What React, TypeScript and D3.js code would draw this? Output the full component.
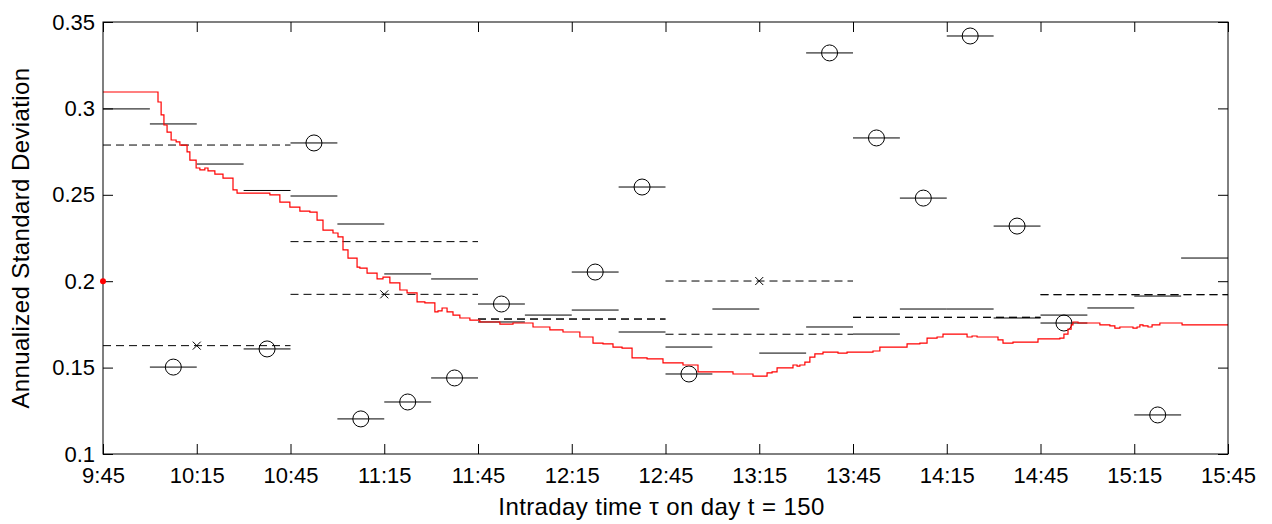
import React, { useEffect, useRef } from 'react';
import * as d3 from 'd3';

// x tick labels (every 30 min)
const tickLabels = ["9:45", "10:15", "10:45", "11:15", "11:45", "12:15", "12:45", "13:15", "13:45", "14:15", "14:45", "15:15", "15:45"];
const yTicks = [0.1, 0.15, 0.2, 0.25, 0.3, 0.35];

// 15-minute buckets
const bucketStarts = ["9:45", "10:00", "10:15", "10:30", "10:45", "11:00", "11:15", "11:30", "11:45", "12:00", "12:15", "12:30",
  "12:45", "13:00", "13:15", "13:30", "13:45", "14:00", "14:15", "14:30", "14:45", "15:00", "15:15", "15:30"];
const bucketEstimate = [0.2997, 0.2910, 0.2678, 0.2525, 0.2493, 0.2331, 0.2042, 0.2013, 0.1764, 0.1804, 0.1833, 0.1706,
  0.1619, 0.1839, 0.1584, 0.1735, 0.1694, 0.1839, 0.1839, 0.1787, 0.1804, 0.1845, 0.1914, 0.2134];
const bucketRealized = [null, 0.1503, null, 0.1608, 0.2800, 0.1203, 0.1301, 0.1440, 0.1868, null, 0.2053, 0.2545,
  0.1463, null, null, 0.3321, 0.2829, 0.2481, 0.3419, 0.2319, 0.1758, null, 0.1226, null];

// hourly blocks (dashed)
const hourStarts = ["9:45", "10:45", "11:45", "12:45", "13:45", "14:45"];
const hourUpper = [0.2788, 0.2229, 0.1781, 0.2001, 0.1791, 0.1922];
const hourLower = [0.1627, 0.1924, 0.1781, 0.1693, 0.1791, 0.1922];
const hourCross = [0.1627, 0.1924, null, 0.2001, null, null];

// red filtered path: minutes after 9:45, value
const filterMinutes = [0, 16.6, 17.6, 18.6, 19.5, 20.5, 21.8, 23.4, 24.6, 26.9, 27.8, 29.8, 31.0, 32.6, 33.6, 35.8, 38.4, 41.6, 42.9,
  53.4, 56.6, 59.8, 63.0, 66.2, 68.5, 70.4, 73.6, 75.2, 76.8, 78.4, 81.3, 82.2, 84.5, 87.7, 89.6, 91.8, 95.0, 97.3, 100.5, 103.0,
  106.2, 107.2, 108.5, 110.1, 112.0, 114.2, 117.4, 120.6, 127.0, 131.2, 137.6, 143.0, 147.2, 152.6, 156.8, 160.0, 163.2, 166.1,
  169.3, 174.1, 179.2, 185.6, 190.4, 201.6, 208.0, 212.5, 214.1, 215.7, 220.8, 222.1, 223.0, 224.6, 226.2, 227.8, 230.4, 235.2,
  238.1, 246.4, 248.6, 257.3, 261.4, 263.7, 266.9, 268.8, 276.5, 278.1, 279.7, 286.4, 288.0, 291.2, 299.2, 306.2, 307.5, 308.8,
  309.8, 310.4, 312.0, 319.0, 322.2, 323.8, 325.4, 329.6, 330.9, 331.8, 332.8, 334.4, 335.7, 338.2, 345.3, 360];
const filterValues = [0.3095, 0.3095, 0.3037, 0.2962, 0.2904, 0.2863, 0.2817, 0.2806, 0.2788, 0.2748, 0.2701, 0.2655, 0.2644, 0.2655, 0.2638, 0.2620, 0.2597, 0.2528, 0.2510,
  0.2499, 0.2458, 0.2429, 0.2406, 0.2400, 0.2354, 0.2296, 0.2279, 0.2256, 0.2181, 0.2134, 0.2082, 0.2076, 0.2047, 0.2013, 0.2024, 0.1990, 0.1949, 0.1932, 0.1880, 0.1874,
  0.1822, 0.1828, 0.1845, 0.1822, 0.1804, 0.1787, 0.1775, 0.1764, 0.1752, 0.1758, 0.1735, 0.1718, 0.1706, 0.1677, 0.1642, 0.1637, 0.1619, 0.1613,
  0.1556, 0.1550, 0.1527, 0.1515, 0.1475, 0.1463, 0.1451, 0.1469, 0.1475, 0.1498, 0.1515, 0.1509, 0.1515, 0.1532, 0.1561, 0.1579, 0.1590, 0.1584,
  0.1590, 0.1596, 0.1619, 0.1637, 0.1642, 0.1671, 0.1677, 0.1694, 0.1677, 0.1683, 0.1677, 0.1660, 0.1642, 0.1648, 0.1666, 0.1671, 0.1694, 0.1723,
  0.1747, 0.1764, 0.1758, 0.1747, 0.1741, 0.1729, 0.1735, 0.1729, 0.1735, 0.1747, 0.1741, 0.1735, 0.1747, 0.1758, 0.1747, 0.1747];
const priorValue = 0.2;

const font = '"Liberation Sans", Arial, sans-serif';

function toMin(s: string) {
  const [h, m] = s.split(':').map(Number);
  return h * 60 + m - (9 * 60 + 45);
}

export default function App() {
  const ref = useRef<SVGSVGElement>(null);

  useEffect(() => {
    const W = 1272, H = 524;
    const left = 103, right = 1228, top = 22, bottom = 454;
    const svg = d3.select(ref.current);
    svg.selectAll('*').remove();

    const x = d3.scaleLinear().domain([0, 360]).range([left, right]);
    const y = d3.scaleLinear().domain([0.1, 0.35]).range([bottom, top]);

    svg.append('rect').attr('width', W).attr('height', H).attr('fill', '#fff');

    svg.append('defs').append('clipPath').attr('id', 'plotclip')
      .append('rect').attr('x', left).attr('y', top).attr('width', right - left).attr('height', bottom - top);

    const plot = svg.append('g').attr('clip-path', 'url(#plotclip)');

    // hourly dashed bands
    hourStarts.forEach((s, i) => {
      const x0 = x(toMin(s)), x1 = x(toMin(s) + 60);
      [hourUpper[i], hourLower[i]].forEach(v => {
        plot.append('line')
          .attr('x1', x0).attr('x2', x1).attr('y1', y(v)).attr('y2', y(v))
          .attr('stroke', '#000').attr('stroke-width', 1).attr('stroke-dasharray', '8,5');
      });
      const c = hourCross[i];
      if (c != null) {
        const cx = x(toMin(s) + 30), cy = y(c), r = 4;
        plot.append('path')
          .attr('d', `M${cx - r},${cy - r}L${cx + r},${cy + r}M${cx - r},${cy + r}L${cx + r},${cy - r}`)
          .attr('stroke', '#000').attr('stroke-width', 1);
      }
    });

    // 15-minute estimates
    bucketStarts.forEach((s, i) => {
      const x0 = x(toMin(s)), x1 = x(toMin(s) + 15);
      plot.append('line')
        .attr('x1', x0).attr('x2', x1).attr('y1', y(bucketEstimate[i])).attr('y2', y(bucketEstimate[i]))
        .attr('stroke', '#000').attr('stroke-width', 1);
      const r = bucketRealized[i];
      if (r != null) {
        plot.append('line')
          .attr('x1', x0).attr('x2', x1).attr('y1', y(r)).attr('y2', y(r))
          .attr('stroke', '#000').attr('stroke-width', 1);
        plot.append('circle')
          .attr('cx', x(toMin(s) + 7.5)).attr('cy', y(r)).attr('r', 8)
          .attr('fill', 'none').attr('stroke', '#000').attr('stroke-width', 1);
      }
    });

    // red filtered line
    const pts: [number, number][] = filterMinutes.map((m, i) => [m, filterValues[i]]);
    const line = d3.line<[number, number]>()
      .x(d => x(d[0])).y(d => y(d[1]))
      .curve(d3.curveStepAfter);
    plot.append('path').attr('d', line(pts))
      .attr('fill', 'none').attr('stroke', '#ff0000').attr('stroke-width', 1.2);

    // axes (MATLAB style, ticks inward)
    const tickMins = tickLabels.map(toMin);
    const styleAxis = (g: any) => {
      g.select('.domain').remove();
      g.selectAll('.tick line').attr('stroke', '#000');
      g.selectAll('.tick text').attr('fill', '#000').attr('font-family', font).attr('font-size', 22);
    };
    svg.append('g').attr('transform', `translate(0,${bottom})`)
      .call(d3.axisBottom(x).tickValues(tickMins).tickFormat((_d, i) => tickLabels[i]).tickSize(-10).tickPadding(13))
      .call(styleAxis);
    svg.append('g').attr('transform', `translate(0,${top})`)
      .call(d3.axisTop(x).tickValues(tickMins).tickFormat(() => '').tickSize(-10))
      .call(styleAxis);
    svg.append('g').attr('transform', `translate(${left},0)`)
      .call(d3.axisLeft(y).tickValues(yTicks).tickFormat(d3.format('~g')).tickSize(-10).tickPadding(8))
      .call(styleAxis);
    svg.append('g').attr('transform', `translate(${right},0)`)
      .call(d3.axisRight(y).tickValues(yTicks).tickFormat(() => '').tickSize(-10))
      .call(styleAxis);

    svg.append('rect')
      .attr('x', left).attr('y', top).attr('width', right - left).attr('height', bottom - top)
      .attr('fill', 'none').attr('stroke', '#000').attr('stroke-width', 1);

    // prior marker
    svg.append('circle').attr('cx', x(0)).attr('cy', y(priorValue)).attr('r', 3).attr('fill', '#ff0000');

    // axis titles
    svg.append('text')
      .attr('x', (left + right) / 2 - 4).attr('y', 515)
      .attr('text-anchor', 'middle').attr('font-family', font).attr('font-size', 24)
      .attr('letter-spacing', 0.4).attr('fill', '#000')
      .text('Intraday time τ on day t = 150');
    svg.append('text')
      .attr('transform', `translate(29,${(top + bottom) / 2}) rotate(-90)`)
      .attr('text-anchor', 'middle').attr('font-family', font).attr('font-size', 24)
      .attr('letter-spacing', 0.4).attr('fill', '#000')
      .text('Annualized Standard Deviation');
  }, []);

  return (
    <div style={{ position: 'fixed', left: 0, top: 0 }}>
      <svg ref={ref} width={1272} height={524} style={{ display: 'block' }} />
    </div>
  );
}
